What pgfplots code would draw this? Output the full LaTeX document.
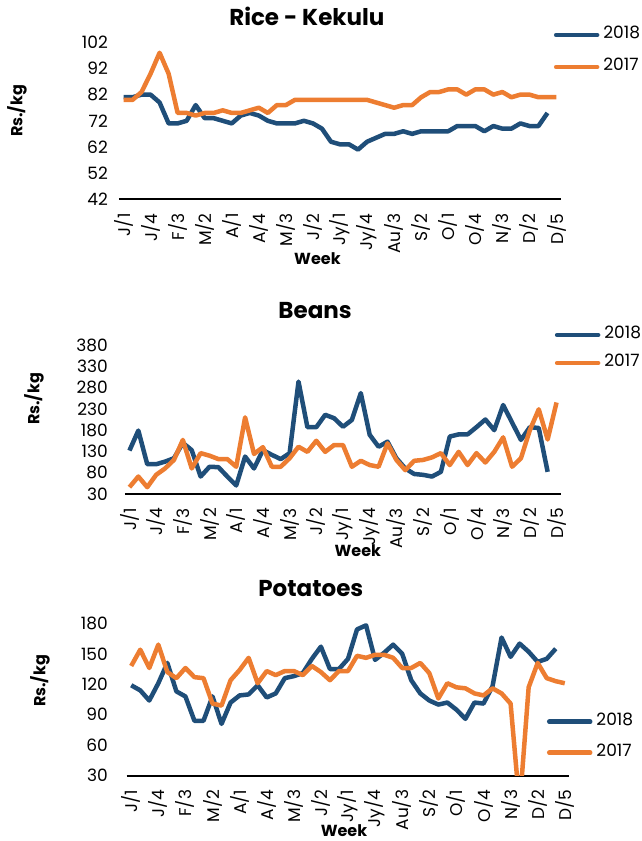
\documentclass[border=0pt]{standalone}
\usepackage{fontspec}
\setmainfont{Poppins}
\usepackage{pgfplots}
\usepackage{pgfplotstable}
\pgfplotsset{compat=1.18}
\definecolor{b18}{HTML}{1F4E79}
\definecolor{o17}{HTML}{ED7D31}

\pgfplotstableread{
i r18 r17 b18 b17 p18 p17
0 81 80 132 46 119 138
1 81 80 179 71 114 154
2 82 83 100 46 104 136
3 82 90 100 75 121 159
4 79 98 106 90 141 132
5 71 90 114 110 113 126
6 71 75 150 157 108 136
7 72 75 133 90 84 127
8 78 74 71 126 84 126
9 73 75 94 120 108 101
10 73 75 93 112 81 99
11 72 76 71 112 102 124
12 71 75 50 94 109 134
13 74 75 118 210 110 146
14 75 76 90 124 119 121
15 74 77 133 140 107 133
16 72 75 122 94 111 129
17 71 78 112 94 126 133
18 71 78 126 114 128 133
19 71 80 294 141 131 129
20 72 80 187 129 145 138
21 71 80 187 155 157 132
22 69 80 216 129 135 124
23 64 80 208 145 135 133
24 63 80 188 145 145 133
25 63 80 204 94 174 148
26 61 80 267 108 178 146
27 64 80 169 98 144 149
28 65.5 79 141 94 151 149
29 67 78 153 149 159 146
30 67 77 114 110 150 136
31 68 78 90 86 124 136
32 67 78 77 108 111 141
33 68 81 75 110 104 131
34 68 83 71 116 100 106
35 68 83 82 126 102 121
36 68 84 165 98 95 117
37 70 84 170 129 86 116
38 70 82 170 98 102 111
39 70 84 187 126 101 109
40 68 84 205 104 118 116
41 70 82 180 129 166 111
42 69 83 239 163 147 101
43 69 81 198 94 160 0
44 71 82 157 114 152 117
45 70 82 187 180 142 141
46 70 81 185 229 145 126
47 75 81 82 158 155 123
48 nan 81 nan 245 nan 121
}\data

\newcommand{\tickfont}{\fontsize{17}{17}\selectfont}
\newcommand{\labfont}{\bfseries\fontsize{16}{16}\selectfont}
\newcommand{\titfont}{\bfseries\fontsize{23}{23}\selectfont}

\pgfplotsset{
  panel/.style={
    scale only axis,
    xmin=-0.5, xmax=48.5,
    axis x line*=bottom, axis y line*=left,
    y axis line style={draw=none},
    x axis line style={line width=1.8pt, black},
    major tick length=0pt,
    xtick={0,3,...,48},
    xticklabels={J/1,J/4,F/3,M/2,A/1,A/4,M/3,J/2,Jy/1,Jy/4,Au/3,S/2,O/1,O/4,N/3,D/2,D/5},
    xticklabel style={rotate=90, anchor=east, inner sep=0pt, font=\tickfont},
    xticklabel shift=14pt,
    yticklabel style={anchor=east, inner sep=0pt, font=\tickfont},
    /pgf/number format/assume math mode=true,
    every axis plot/.append style={line width=4.5pt, no marks, line join=round},
    xlabel={Week}, ylabel={Rs./kg},
    xlabel style={font=\labfont, anchor=center},
    ylabel style={font=\labfont, anchor=center},
    title style={font=\titfont, anchor=center, yshift=0pt},
    legend style={draw=none, fill=none, inner sep=0pt, outer sep=0pt,
      column sep=3pt, anchor=west,
      nodes={inner sep=1pt, text height=10pt, text depth=3pt, font=\tickfont}},
    legend cell align=left,
    legend image code/.code={\draw[#1, line width=4.5pt, line cap=round] (0pt,0pt) -- (41pt,0pt);},
  }
}

\begin{document}
\begin{tikzpicture}
\useasboundingbox (0pt,0pt) rectangle (641pt,841pt);

% Rice
\begin{axis}[panel, at={(119pt,641.7pt)}, anchor=south west, width=442pt, height=157pt,
  ymin=42, ymax=102, ytick={42,52,...,102},
  yticklabel shift=11pt,
  title={Rice - Kekulu}, title style={at={(axis description cs:0.425,1.129)}},
  xlabel style={at={(axis description cs:0.449,-0.38)}},
  ylabel style={at={(axis description cs:-0.231,0.562)}},
  legend style={at={(axis description cs:0.984,0.9446)}, row sep=17pt}]
\addplot[b18] table[x=i,y=r18]{\data};
\addplot[o17] table[x=i,y=r17]{\data};
\legend{2018,2017}
\end{axis}

% Beans
\begin{axis}[panel, at={(125pt,347pt)}, anchor=south west, width=436pt, height=149pt,
  ymin=30, ymax=380, ytick={30,80,...,380},
  yticklabel shift=17pt,
  title={Beans}, title style={at={(axis description cs:0.436,1.188)}},
  xlabel style={at={(axis description cs:0.534,-0.383)}},
  ylabel style={at={(axis description cs:-0.209,0.638)}},
  legend style={at={(axis description cs:0.986,0.973)}, row sep=13pt}]
\addplot[b18] table[x=i,y=b18]{\data};
\addplot[o17] table[x=i,y=b17]{\data};
\legend{2018,2017}
\end{axis}

% Potatoes
\begin{axis}[panel, at={(126.7pt,65.3pt)}, anchor=south west, width=442.6pt, height=152.4pt,
  ymin=30, ymax=180, ytick={30,60,...,180},
  yticklabel shift=18.7pt,
  title={Potatoes}, title style={at={(axis description cs:0.416,1.186)}},
  xlabel style={at={(axis description cs:0.491,-0.363)}},
  ylabel style={at={(axis description cs:-0.196,0.621)}},
  legend style={at={(axis description cs:0.9496,0.2526)}, row sep=16pt}]
\addplot[b18] table[x=i,y=p18]{\data};
\addplot[o17] table[x=i,y=p17]{\data};
\legend{2018,2017}
\end{axis}
\end{tikzpicture}
\end{document}
